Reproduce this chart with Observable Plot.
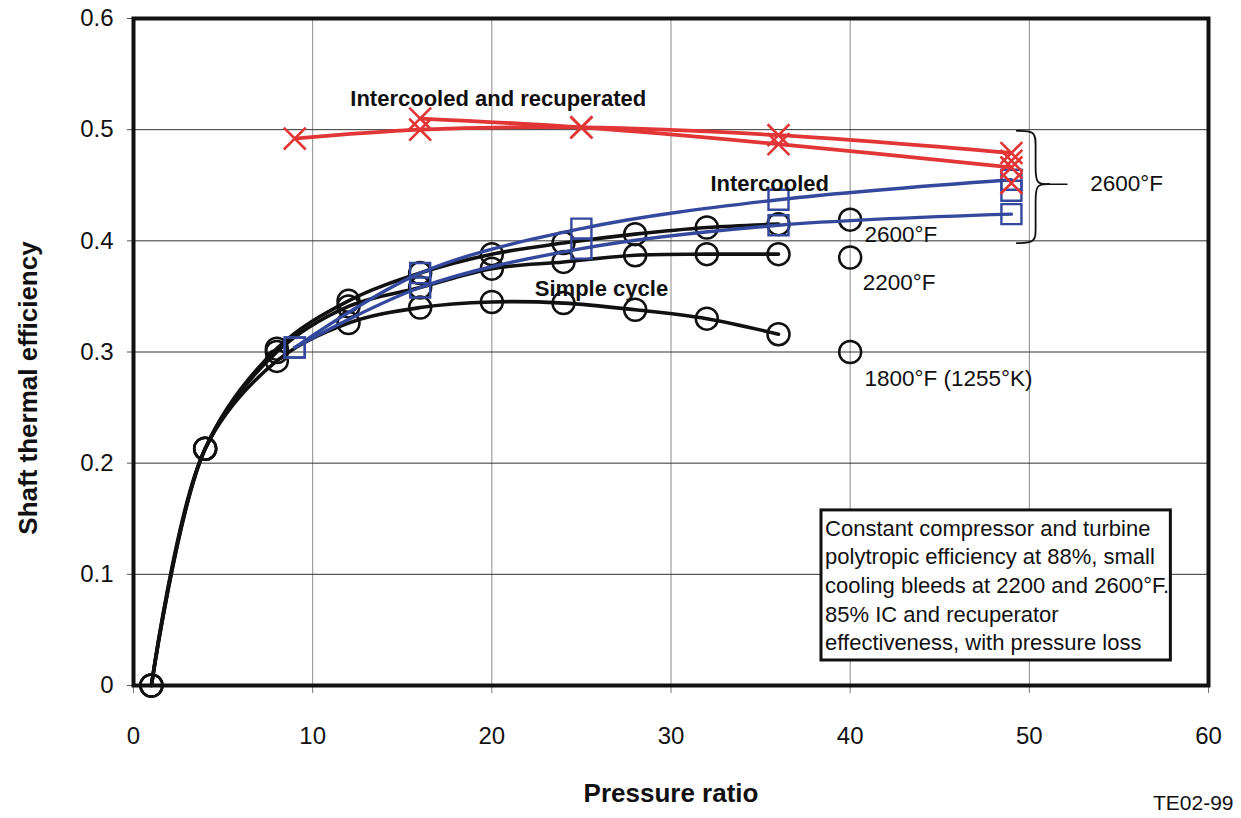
<!DOCTYPE html>
<html><head><meta charset="utf-8">
<script src="https://cdn.jsdelivr.net/npm/d3@7"></script>
<script src="https://cdn.jsdelivr.net/npm/@observablehq/plot@0.6"></script>
<style>body{margin:0;background:#fff}#chart svg{overflow:visible}</style>
</head><body><div id="chart"></div>
<script>
// ---- data ----
const pressureSimple = [1, 4, 8, 12, 16, 20, 24, 28, 32, 36];
const simple2600 = [0, 0.213, 0.303, 0.346, 0.371, 0.388, 0.398, 0.406, 0.412, 0.415];
const simple2200 = [0, 0.213, 0.300, 0.341, 0.358, 0.375, 0.381, 0.387, 0.388, 0.388];
const simple1800 = [0, 0.213, 0.292, 0.326, 0.340, 0.345, 0.344, 0.338, 0.330, 0.316];
const isolatedPressure = [40, 40, 40];
const isolatedEff = [0.419, 0.385, 0.300];

const icPressure = [9, 16, 25, 36, 49];
const icUpper = [0.304, 0.371, 0.411, 0.437, 0.455];
const icLower = [0.304, 0.358, 0.393, 0.414, 0.424];
const icExtraPressure = [49];
const icExtraEff = [0.445];

const icrPressureA = [9, 16, 25, 36, 49];
const icrA = [0.492, 0.500, 0.502, 0.495, 0.479];
const icrPressureB = [16, 25, 36, 49];
const icrB = [0.510, 0.502, 0.487, 0.466];
const icrExtraPressure = [49, 49];
const icrExtraEff = [0.452, 0.472];

const xTicks = [0, 10, 20, 30, 40, 50, 60];
const yTicks = [0, 0.1, 0.2, 0.3, 0.4, 0.5, 0.6];

const noteLines = [
  "Constant compressor and turbine",
  "polytropic efficiency at 88%, small",
  "cooling bleeds at 2200 and 2600°F.",
  "85% IC and recuperator",
  "effectiveness, with pressure loss"
];

// ---- build rows ----
const rows = (xs, ys, s) => xs.map((x, i) => ({x, y: ys[i], s}));
const simpleSeries = [
  ...rows(pressureSimple, simple2600, "2600"),
  ...rows(pressureSimple, simple2200, "2200"),
  ...rows(pressureSimple, simple1800, "1800")
];
const isolated = rows(isolatedPressure, isolatedEff, "iso");
const icSeries = [...rows(icPressure, icUpper, "u"), ...rows(icPressure, icLower, "l")];
const icExtra = rows(icExtraPressure, icExtraEff, "e");
const icrSeries = [...rows(icrPressureA, icrA, "a"), ...rows(icrPressureB, icrB, "b")];
const icrExtra = rows(icrExtraPressure, icrExtraEff, "e");

// annotations (data units)
const annotations = [
  {t: "Intercooled and recuperated", x: 12.1, y: 0.528, b: true},
  {t: "Intercooled", x: 32.2, y: 0.451, b: true},
  {t: "Simple cycle", x: 22.4, y: 0.357, b: true},
  {t: "2600°F", x: 40.8, y: 0.405, b: false},
  {t: "2200°F", x: 40.7, y: 0.362, b: false},
  {t: "1800°F (1255°K)", x: 40.8, y: 0.276, b: false},
  {t: "2600°F", x: 53.4, y: 0.451, b: false}
];
const braceTop = 0.499, braceMid = 0.451, braceBottom = 0.398;
const braceStart = 49.3, braceSpine = 50.35, braceTip = 51.1, braceTail = 52.1;
const braceUpper = [[braceStart, braceTop], [braceSpine, braceTop], [braceSpine, braceTop - 0.012], [braceSpine, braceMid + 0.014], [braceSpine, braceMid], [braceTip, braceMid]];
const braceLower = [[braceTip, braceMid], [braceSpine, braceMid], [braceSpine, braceMid - 0.014], [braceSpine, braceBottom + 0.012], [braceSpine, braceBottom], [braceStart, braceBottom]];

const RED = "#e23636", BLUE = "#34499d", BLACK = "#111";
const font = "'Liberation Sans', Arial, Helvetica, sans-serif";

const chart = Plot.plot({
  width: 1241, height: 818,
  marginLeft: 133, marginRight: 33, marginTop: 18, marginBottom: 133,
  style: {fontFamily: font, fontSize: "24px", color: "#111", background: "white"},
  x: {domain: [0, 60]},
  y: {domain: [0, 0.6]},
  marks: [
    Plot.gridX(xTicks.slice(1, -1), {stroke: "#8c8c8c", strokeOpacity: 1, strokeWidth: 1}),
    Plot.gridY(yTicks.slice(1, -1), {stroke: "#333", strokeOpacity: 1, strokeWidth: 1}),
    Plot.axisX({ticks: xTicks, tickSize: 8, tickPadding: 33, stroke: "#777", fontSize: 24, label: null, tickFormat: d => String(d)}),
    Plot.axisY({ticks: yTicks, tickSize: 6, tickPadding: 14, stroke: "#555", fontSize: 24, label: null, tickFormat: d => d === 0 ? "0" : d.toFixed(1)}),
    Plot.frame({stroke: "#111", strokeWidth: 4}),
    // note box
    Plot.rect([0], {x1: 38.4, x2: 57.9, y1: 0.0225, y2: 0.1575, fill: "white", stroke: "#111", strokeWidth: 3}),
    Plot.text([noteLines.join("\n")], {x: 38.6, y: 0.153, textAnchor: "start", lineAnchor: "top", lineHeight: 1.3, fontSize: 22, fill: "#111"}),
    // simple cycle curves
    Plot.line(simpleSeries, {x: "x", y: "y", z: "s", stroke: BLACK, strokeWidth: 3.6, curve: "catmull-rom"}),
    Plot.dot(simpleSeries, {x: "x", y: "y", r: 11, stroke: BLACK, strokeWidth: 2.5, fill: "none"}),
    Plot.dot(isolated, {x: "x", y: "y", r: 11, stroke: BLACK, strokeWidth: 2.5, fill: "none"}),
    // intercooled
    Plot.line(icSeries, {x: "x", y: "y", z: "s", stroke: BLUE, strokeWidth: 3.4, curve: "catmull-rom"}),
    Plot.dot(icSeries, {x: "x", y: "y", symbol: "square", r: 11.3, stroke: BLUE, strokeWidth: 2.4, fill: "none"}),
    Plot.dot(icExtra, {x: "x", y: "y", symbol: "square", r: 11.3, stroke: BLUE, strokeWidth: 2.4, fill: "none"}),
    // intercooled and recuperated
    Plot.line(icrSeries, {x: "x", y: "y", z: "s", stroke: RED, strokeWidth: 3.8, curve: "catmull-rom"}),
    Plot.dot(icrSeries, {x: "x", y: "y", symbol: "times", r: 10, stroke: RED, strokeWidth: 2.6}),
    Plot.dot(icrExtra, {x: "x", y: "y", symbol: "times", r: 10, stroke: RED, strokeWidth: 2.6}),
    // brace
    Plot.line(braceUpper, {x: d => d[0], y: d => d[1], stroke: "#111", strokeWidth: 1.8, curve: "basis"}),
    Plot.line(braceLower, {x: d => d[0], y: d => d[1], stroke: "#111", strokeWidth: 1.8, curve: "basis"}),
    Plot.line([[braceTip, braceMid], [braceTail, braceMid]], {x: d => d[0], y: d => d[1], stroke: "#111", strokeWidth: 1.5}),
    // annotations
    Plot.text(annotations.filter(d => d.b), {x: "x", y: "y", text: "t", textAnchor: "start", fontSize: 22, fontWeight: "bold", fill: "#111"}),
    Plot.text(annotations.filter(d => !d.b), {x: "x", y: "y", text: "t", textAnchor: "start", fontSize: 22.5, fill: "#111"}),
    // axis titles & code
    Plot.text(["Pressure ratio"], {frameAnchor: "bottom", dy: 108, textAnchor: "middle", lineAnchor: "middle", fontSize: 26, fontWeight: "bold", fill: "#111"}),
    Plot.text(["Shaft thermal efficiency"], {frameAnchor: "left", dx: -105, dy: 36, rotate: -90, textAnchor: "middle", lineAnchor: "middle", fontSize: 26, fontWeight: "bold", fill: "#111"}),
    Plot.text(["TE02-99"], {frameAnchor: "bottom-right", dx: 25, dy: 118, textAnchor: "end", lineAnchor: "middle", fontSize: 21, fill: "#111"})
  ]
});
document.getElementById("chart").appendChild(chart);
</script>
</body></html>
